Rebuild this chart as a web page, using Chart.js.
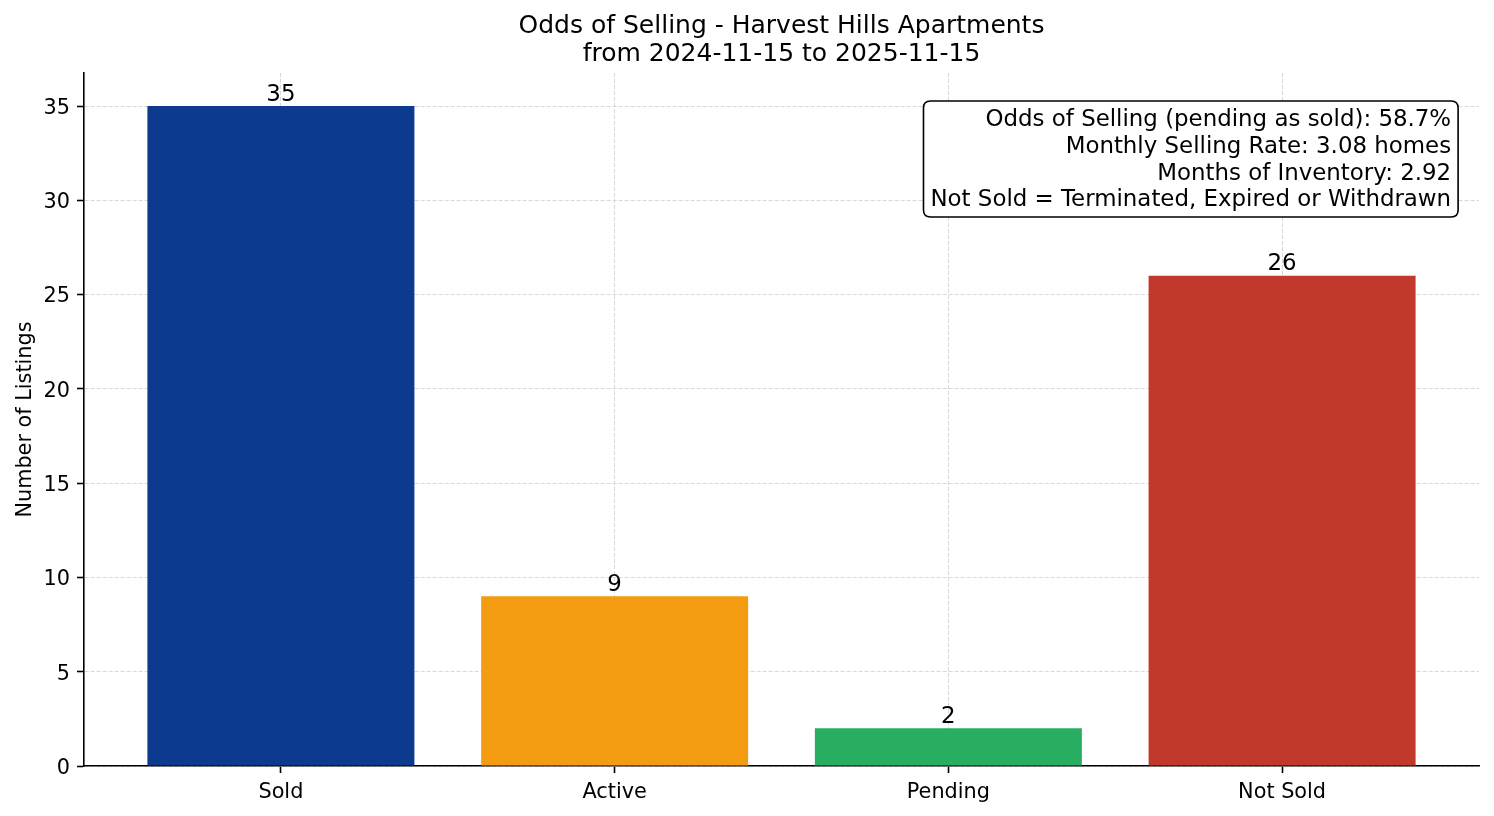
<!DOCTYPE html>
<html>
<head>
<meta charset="utf-8">
<script src="https://cdn.jsdelivr.net/npm/chart.js@4.4.0/dist/chart.umd.min.js"></script>
<style>
  html, body { margin: 0; padding: 0; background: #ffffff; }
  canvas { display: block; }
</style>
</head>
<body>
<canvas id="c" width="1494" height="816"></canvas>
<script>
// ---- Data ----
const categories = ["Sold", "Active", "Pending", "Not Sold"];
const listingCounts = [35, 9, 2, 26];
const barColors = ["#0b3a8e", "#f39c12", "#27ae60", "#c0392b"];
const yTickValues = [0, 5, 10, 15, 20, 25, 30, 35];
const titleLines = ["Odds of Selling - Harvest Hills Apartments", "from 2024-11-15 to 2025-11-15"];
const yAxisLabel = "Number of Listings";
const infoLines = [
  "Odds of Selling (pending as sold): 58.7%",
  "Monthly Selling Rate: 3.08 homes",
  "Months of Inventory: 2.92",
  "Not Sold = Terminated, Expired or Withdrawn"
];

const FONT = "'DejaVu Sans', 'Liberation Sans', sans-serif";
Chart.defaults.color = "#000";
Chart.defaults.font.family = FONT;

const overlay = {
  id: "overlay",
  afterDatasetsDraw(chart) {
    const ctx = chart.ctx;
    const meta = chart.getDatasetMeta(0);
    ctx.save();
    ctx.fillStyle = "#000";
    ctx.font = "22.9px " + FONT;
    ctx.textAlign = "center";
    ctx.textBaseline = "bottom";
    meta.data.forEach((bar, i) => {
      ctx.fillText(String(listingCounts[i]), bar.x, bar.y);
    });
    ctx.restore();
  },
  afterDraw(chart) {
    const ctx = chart.ctx;
    const area = chart.chartArea;
    ctx.save();
    // Title
    ctx.fillStyle = "#000";
    ctx.font = "25px " + FONT;
    ctx.textAlign = "center";
    ctx.textBaseline = "middle";
    const cx = (area.left + area.right) / 2;
    ctx.fillText(titleLines[0], cx, 26.5);
    ctx.fillText(titleLines[1], cx, 54.5);

    // Info box
    ctx.font = "22.9px " + FONT;
    const rightX = area.left + 0.98 * (area.right - area.left);
    let maxW = 0;
    infoLines.forEach(t => { maxW = Math.max(maxW, ctx.measureText(t).width); });
    const pad = 7;
    const bx = rightX - maxW - pad;
    const by = 101;
    const bw = maxW + 2 * pad;
    const bh = 116;
    const r = 7;
    ctx.beginPath();
    ctx.moveTo(bx + r, by);
    ctx.lineTo(bx + bw - r, by);
    ctx.quadraticCurveTo(bx + bw, by, bx + bw, by + r);
    ctx.lineTo(bx + bw, by + bh - r);
    ctx.quadraticCurveTo(bx + bw, by + bh, bx + bw - r, by + bh);
    ctx.lineTo(bx + r, by + bh);
    ctx.quadraticCurveTo(bx, by + bh, bx, by + bh - r);
    ctx.lineTo(bx, by + r);
    ctx.quadraticCurveTo(bx, by, bx + r, by);
    ctx.closePath();
    ctx.fillStyle = "#ffffff";
    ctx.fill();
    ctx.lineWidth = 1.6;
    ctx.strokeStyle = "#000";
    ctx.stroke();
    ctx.fillStyle = "#000";
    ctx.textAlign = "right";
    ctx.textBaseline = "middle";
    infoLines.forEach((t, i) => {
      ctx.fillText(t, rightX, 120.5 + i * 26.6);
    });
    ctx.restore();
  }
};

new Chart(document.getElementById("c"), {
  type: "bar",
  data: {
    datasets: [{
      data: categories.map((c, i) => ({ x: i, y: listingCounts[i] })),
      backgroundColor: barColors,
      borderWidth: 0,
      barPercentage: 0.8,
      categoryPercentage: 1.0
    }]
  },
  options: {
    responsive: false,
    animation: false,
    devicePixelRatio: 1,
    layout: { padding: { left: 0, right: 15, top: 73, bottom: 0 } },
    plugins: { legend: { display: false }, tooltip: { enabled: false }, title: { display: false } },
    scales: {
      x: {
        type: "linear",
        min: -0.59,
        max: 3.59,
        offset: false,
        z: 1,
        afterFit(scale) { scale.height = 50; },
        afterBuildTicks(scale) { scale.ticks = categories.map((c, i) => ({ value: i })); },
        ticks: {
          autoSkip: false,
          maxRotation: 0,
          padding: 7,
          font: { size: 20.8, family: FONT },
          color: "#000",
          callback: (v) => categories[v]
        },
        grid: {
          offset: false,
          color: "#d4d4d4",
          lineWidth: 0.9,
          drawTicks: true,
          tickLength: 7,
          tickColor: "#000",
          tickWidth: 1.6,
          tickBorderDash: []
        },
        border: { display: true, color: "#000", width: 1.6, dash: [4, 2] }
      },
      y: {
        type: "linear",
        min: 0,
        max: 36.75,
        z: 1,
        afterFit(scale) { scale.width = 84; },
        afterBuildTicks(scale) { scale.ticks = yTickValues.map(v => ({ value: v })); },
        ticks: {
          padding: 7,
          labelOffset: 2.5,
          font: { size: 20.8, family: FONT },
          color: "#000"
        },
        grid: {
          color: "#d4d4d4",
          lineWidth: 0.9,
          drawTicks: true,
          tickLength: 7,
          tickColor: "#000",
          tickWidth: 1.6,
          tickBorderDash: []
        },
        border: { display: true, color: "#000", width: 1.6, dash: [4, 2] },
        title: {
          display: true,
          text: yAxisLabel,
          font: { size: 20.8, family: FONT },
          color: "#000",
          padding: { top: 13, bottom: 0 }
        }
      }
    }
  },
  plugins: [overlay]
});
</script>
</body>
</html>
